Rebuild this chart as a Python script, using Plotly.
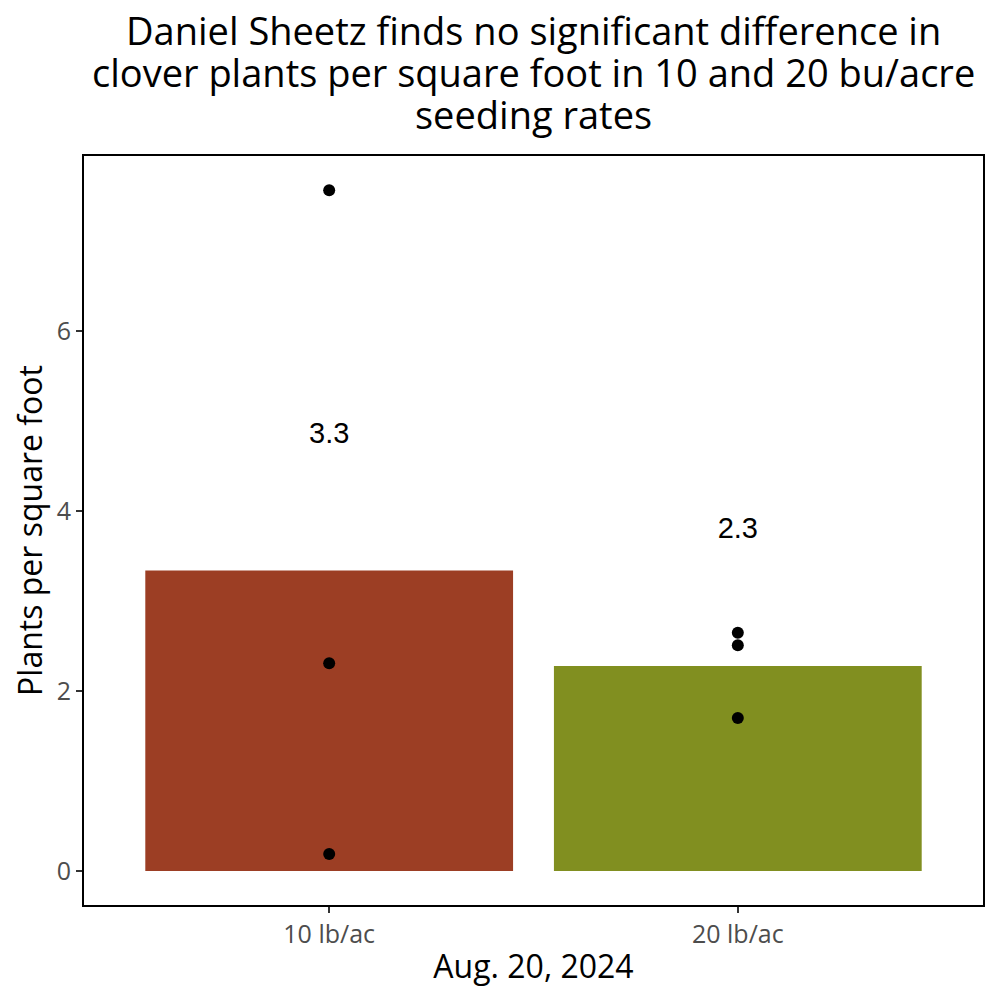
import plotly.graph_objects as go

# data
rates = ['10 lb/ac', '20 lb/ac']
bar_means = [3.34, 2.28]
bar_colors = ['#9c3e24', '#818f20']
mean_labels = ['3.3', '2.3']
points_10 = [7.57, 2.31, 0.19]
points_20 = [2.65, 2.51, 1.70]
label_offset = 1.5

title_lines = ['Daniel Sheetz finds no significant difference in',
               'clover plants per square foot in 10 and 20 bu/acre',
               'seeding rates']

tick_font = dict(family='Open Sans', size=25, color='#4d4d4d')
axis_title_font = dict(family='Open Sans', size=32, color='black')

fig = go.Figure()

fig.add_trace(go.Bar(x=rates, y=bar_means, width=0.9, marker=dict(color=bar_colors, line=dict(width=0)), showlegend=False))

# individual samples
fig.add_trace(go.Scatter(x=[rates[0]] * len(points_10) + [rates[1]] * len(points_20), y=points_10 + points_20,
                         mode='markers', marker=dict(color='black', size=12), showlegend=False))

# mean labels above the bars
fig.add_trace(go.Scatter(x=rates, y=[m + label_offset for m in bar_means], mode='text', text=mean_labels,
                         textfont=dict(family='Liberation Sans, Arial', size=29, color='black'), showlegend=False))

# title, one annotation per line so the line spacing matches
for i, line in enumerate(title_lines):
    fig.add_annotation(text=line, x=0.5, xref='paper', xanchor='center',
                       y=1.168 - i * 0.0561, yref='paper', yanchor='middle', showarrow=False,
                       font=dict(family='Open Sans', size=38, color='black'))

# page body adds 8px around the plot, so the figure is 984 to fill the 1000px window
fig.update_layout(
    width=984, height=984,
    plot_bgcolor='white', paper_bgcolor='white',
    margin=dict(l=76, r=9, t=148, b=87),
    bargap=0.1,
)

fig.update_xaxes(range=[-0.6, 1.6], showline=True, linecolor='black', linewidth=2, mirror=True, showgrid=False,
                 ticks='outside', ticklen=6, tickcolor='#333333', tickwidth=2, tickfont=tick_font, automargin=False,
                 title=dict(text='Aug. 20, 2024', font=axis_title_font, standoff=7))
fig.update_yaxes(range=[-0.378, 7.95], showline=True, linecolor='black', linewidth=2, mirror=True, showgrid=False,
                 zeroline=False, tickvals=[0, 2, 4, 6], ticks='outside', ticklen=6, tickcolor='#333333', tickwidth=2,
                 tickfont=tick_font, automargin=False,
                 title=dict(text='Plants per square foot', font=axis_title_font, standoff=6))

fig.write_html("out.html")
